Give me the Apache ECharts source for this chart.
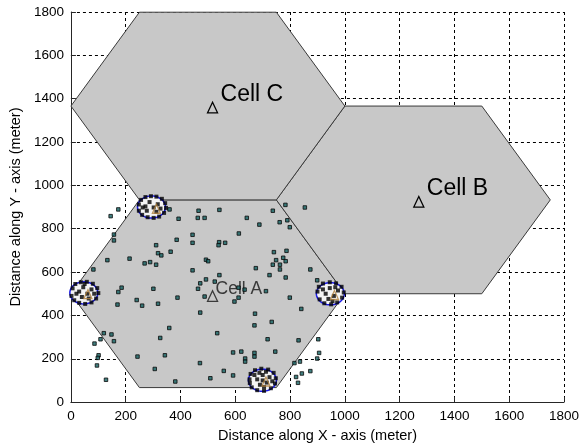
<!DOCTYPE html>
<html><head><meta charset="utf-8">
<script src="https://cdn.jsdelivr.net/npm/echarts@6/dist/echarts.min.js"></script>
<style>html,body{margin:0;padding:0;background:#fff}#c{width:582px;height:448px}</style>
</head><body><div id="c"></div>
<script>
// ---- data ----
const axisTicks = [0,200,400,600,800,1000,1200,1400,1600,1800];
const xAxisTitle = 'Distance along X - axis (meter)';
const yAxisTitle = 'Distance along Y - axis (meter)';

const hexA = [[0,500],[250,67],[750,67],[1000,500],[750,933],[250,933]];
const hexB = [[750,933],[1000,500],[1500,500],[1750,933],[1500,1366],[1000,1366]];
const hexC = [[0,1366],[250,933],[750,933],[1000,1366],[750,1799],[250,1799]];

const cellNames = ['Cell A','Cell B','Cell C'];
const cellMarkX = [517,1270,517];
const cellMarkY = [488,923,1358];

const clusterX = [47,294,947,699];
const clusterY = [504,900,500,101];
const clusterR = [51,51,51,51];

const clusterMarkX = [62,312,962,712];
const clusterMarkY = [498,892,494,95];

const clusterDots = [
  // left cluster
  [2,490],[6,525],[16,545],[36,553],[58,555],[80,546],[96,526],[100,503],[92,478],[75,460],[52,453],[30,458],[12,470],[30,510],[45,530],[60,500],[75,520],[40,485],[65,478],[20,500],[85,500],[50,545],
  // top cluster
  [248,912],[256,933],[272,946],[292,950],[312,948],[332,938],[344,918],[347,896],[340,873],[322,856],[302,850],[280,853],[260,864],[248,883],[272,903],[287,923],[302,898],[317,913],[277,883],[312,878],[262,898],[327,893],
  // right cluster
  [900,510],[905,532],[920,547],[945,553],[968,548],[988,532],[996,506],[990,482],[972,460],[950,451],[925,456],[908,474],[930,500],[945,526],[960,490],[975,515],[940,476],[920,520],[965,530],[955,466],
  // bottom cluster
  [652,105],[656,130],[672,147],[695,154],[720,150],[740,135],[748,110],[745,86],[730,64],[705,52],[680,55],[660,68],[653,88],[680,105],[700,125],[715,90],[690,80],[725,115],[705,70],[670,125],[735,96],[700,100],[688,135],[712,140]
];

const userX = [145,173,157,157,360,393,466,463,488,542,444,444,386,311,541,563,539,364,318,330,133,214,269,289,311,493,501,82,444,542,493,472,525,185,173,301,464,389,488,642,737,783,854,688,762,790,799,613,741,787,775,749,784,737,763,763,675,874,725,784,899,612,634,712,799,612,170,240,260,318,472,359,326,534,120,148,108,157,86,243,343,101,98,95,306,471,558,509,128,381,597,841,672,670,733,718,831,592,622,670,670,746,636,636,903,906,899,816,836,592,843,874,822,829];
const userY = [858,889,773,746,889,846,883,850,850,887,772,735,749,724,738,735,724,694,687,677,655,662,640,646,634,657,650,612,608,586,566,548,556,528,508,523,523,482,487,850,883,910,898,819,830,839,807,778,692,698,666,655,650,634,634,612,618,612,586,575,562,528,519,512,482,482,450,471,445,454,413,342,296,318,318,312,290,281,270,210,216,216,204,169,153,180,144,110,103,95,464,430,408,354,370,290,285,229,233,227,210,233,201,187,290,227,201,180,187,123,132,143,116,89];

// ---- build ----
const FONT = "'Liberation Sans', Arial, Helvetica, sans-serif";
const hexes = [hexA, hexB, hexC];
const userPts = userX.map((x,i)=>[x,userY[i]]);
const chart = echarts.init(document.getElementById('c'), null, {renderer:'canvas'});

chart.setOption({
  animation:false,
  backgroundColor:'#fff',
  grid:{left:69,right:15,top:12,bottom:45,containLabel:false},
  xAxis:{
    type:'value',min:0,max:1800,interval:200,
    name:xAxisTitle,nameLocation:'middle',nameGap:25,
    nameTextStyle:{fontFamily:FONT,fontSize:14.5,color:'#000'},
    axisLine:{show:true,onZero:false,lineStyle:{color:'#262626',width:1}},
    axisTick:{show:true,inside:true,length:5,lineStyle:{color:'#262626'}},
    axisLabel:{fontFamily:FONT,fontSize:13.5,color:'#000',margin:7,formatter:v=>axisTicks.includes(v)?String(v):''},
    splitLine:{show:true,lineStyle:{color:'#000',type:[3,3],width:1}}
  },
  yAxis:{
    type:'value',min:0,max:1800,interval:200,
    name:yAxisTitle,nameLocation:'middle',nameGap:47,nameRotate:90,
    nameTextStyle:{fontFamily:FONT,fontSize:14.5,color:'#000'},
    axisLine:{show:true,onZero:false,lineStyle:{color:'#262626',width:1}},
    axisTick:{show:true,inside:true,length:5,lineStyle:{color:'#262626'}},
    axisLabel:{fontFamily:FONT,fontSize:13.5,color:'#000',margin:7,formatter:v=>axisTicks.includes(v)?String(v):''},
    splitLine:{show:true,lineStyle:{color:'#000',type:[3,3],width:1}}
  },
  series:[
    {
      type:'custom',name:'cells',coordinateSystem:'cartesian2d',clip:false,
      data:[[500,500],[1250,933],[500,1366]],
      renderItem:(params,api)=>{
        const pts = hexes[params.dataIndex].map(p=>api.coord(p));
        return {type:'polygon',shape:{points:pts},style:{fill:'#c8c8c8',stroke:'#3a3a3a',lineWidth:1}};
      }
    },
    {
      type:'custom',name:'labels',coordinateSystem:'cartesian2d',clip:false,
      data:cellMarkX.map((x,i)=>[x,cellMarkY[i]]),
      renderItem:(params,api)=>{
        const i = params.dataIndex;
        const c = api.coord([api.value(0),api.value(1)]);
        const big = i!==0;
        const fs = big?23:17.5;
        const dx = big?8:3, dy = big?-13.5:-7;
        const col = big?'#000':'#3a3a3a';
        return {type:'group',children:[
          {type:'polygon',shape:{points:[[c[0],c[1]-5.5],[c[0]-5,c[1]+5],[c[0]+5,c[1]+5]]},
           style:{fill:'none',stroke:col,lineWidth:1.3}},
          {type:'text',x:c[0]+dx,y:c[1]+dy,
           style:{text:cellNames[i],fontFamily:FONT,fontSize:fs,fill:col,textAlign:'left',textVerticalAlign:'middle'}}
        ]};
      }
    },
    {
      type:'custom',name:'clusters',coordinateSystem:'cartesian2d',clip:false,
      data:clusterX.map((x,i)=>[x,clusterY[i]]),
      renderItem:(params,api)=>{
        const i = params.dataIndex;
        const cx = api.value(0), cy = api.value(1), r = clusterR[i];
        const pts = [];
        for(let k=0;k<48;k++){const a=k/48*Math.PI*2;pts.push(api.coord([cx+r*Math.cos(a),cy+r*Math.sin(a)]));}
        return {type:'polygon',shape:{points:pts},style:{fill:'#f4f4f4',stroke:'#1a1ae6',lineWidth:1.5}};
      }
    },
    {
      type:'scatter',name:'users',data:userPts,symbol:'rect',symbolSize:3.5,
      itemStyle:{color:'#136262',borderColor:'#0a0a0a',borderWidth:1}
    },
    {
      type:'scatter',name:'clusterUsers',data:clusterDots,symbol:'rect',symbolSize:4,
      itemStyle:{color:'#000'}
    },
    {
      type:'scatter',name:'clusterStations',data:clusterMarkX.map((x,i)=>[x,clusterMarkY[i]]),symbol:'triangle',symbolSize:[8,9],
      itemStyle:{color:'rgba(0,0,0,0)',borderColor:'#b0803a',borderWidth:1.3}
    }
  ]
});
</script>
</body></html>
